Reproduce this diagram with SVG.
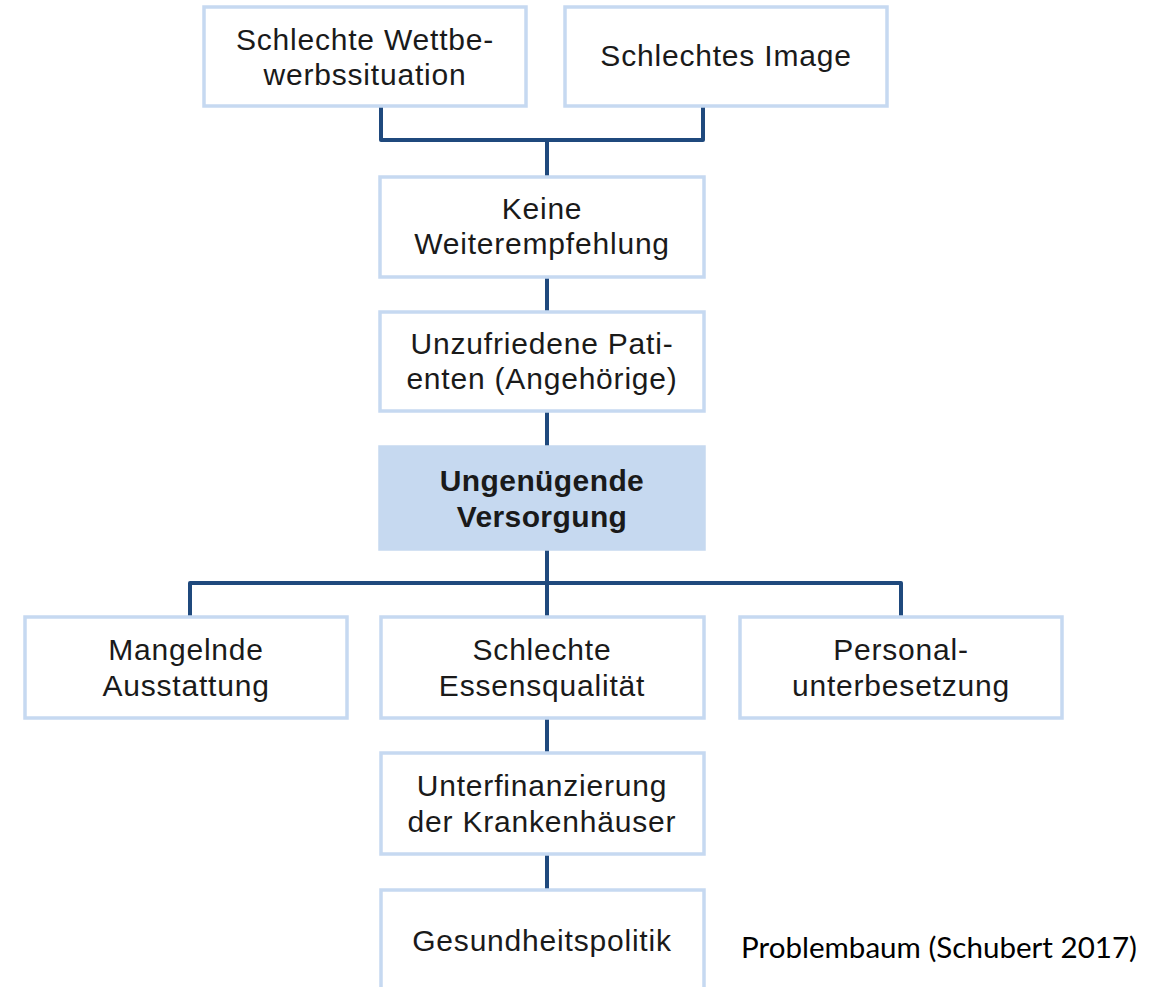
<svg xmlns="http://www.w3.org/2000/svg" width="1163" height="987" viewBox="0 0 1163 987">
<style>
.box{fill:#ffffff;stroke:#c6d9f1;stroke-width:3.5}
.main{fill:#c6d9f0;stroke:#c6d9f0;stroke-width:3.5}
.t{font-family:"Liberation Sans",Arial,sans-serif;font-size:30px;letter-spacing:0.8px;fill:#1a1a1a;text-anchor:middle}
.b{font-weight:bold;letter-spacing:0.4px}
.c{fill:none;stroke:#1f497d;stroke-width:4;stroke-linejoin:round;stroke-linecap:butt}
.cap{font-family:Lato,"Open Sans",sans-serif;font-size:28px;font-weight:400;fill:#000}
</style>
<rect width="1163" height="987" fill="#ffffff"/>
<g id="connectors">
<path class="c" d="M381,106 V140 H703 V106"/>
<path class="c" d="M547,140 V177"/>
<path class="c" d="M547,277 V312"/>
<path class="c" d="M547,411 V447"/>
<path class="c" d="M547,549 V617"/>
<path class="c" d="M190,617 V583 H901 V617"/>
<path class="c" d="M547,718 V753"/>
<path class="c" d="M547,854 V890"/>
</g>
<g id="n1"><rect class="box" x="204" y="7" width="322" height="99"/>
<text class="t" x="365" y="50">Schlechte Wettbe-</text><text class="t" x="365" y="85">werbssituation</text></g>
<g id="n2"><rect class="box" x="565" y="7" width="322" height="99"/>
<text class="t" x="726" y="66">Schlechtes Image</text></g>
<g id="n3"><rect class="box" x="380" y="177" width="324" height="100"/>
<text class="t" x="542" y="219">Keine</text><text class="t" x="542" y="254">Weiterempfehlung</text></g>
<g id="n4"><rect class="box" x="380" y="312" width="324" height="99"/>
<text class="t" x="542" y="354">Unzufriedene Pati-</text><text class="t" x="542" y="389">enten (Angehörige)</text></g>
<g id="n5"><rect class="main" x="380" y="447" width="324" height="102"/>
<text class="t b" x="542" y="491">Ungenügende</text><text class="t b" x="542" y="527">Versorgung</text></g>
<g id="n6"><rect class="box" x="25" y="617" width="322" height="101"/>
<text class="t" x="186" y="660">Mangelnde</text><text class="t" x="186" y="696">Ausstattung</text></g>
<g id="n7"><rect class="box" x="381" y="617" width="323" height="101"/>
<text class="t" x="542" y="660">Schlechte</text><text class="t" x="542" y="696">Essensqualität</text></g>
<g id="n8"><rect class="box" x="740" y="617" width="322" height="101"/>
<text class="t" x="901" y="660">Personal-</text><text class="t" x="901" y="696">unterbesetzung</text></g>
<g id="n9"><rect class="box" x="381" y="753" width="323" height="101"/>
<text class="t" x="542" y="796">Unterfinanzierung</text><text class="t" x="542" y="832">der Krankenhäuser</text></g>
<g id="n10"><rect class="box" x="381" y="890" width="323" height="105"/>
<text class="t" x="542" y="951">Gesundheitspolitik</text></g>
<text class="cap" x="741" y="958" textLength="396" lengthAdjust="spacingAndGlyphs">Problembaum (Schubert 2017)</text>
</svg>
